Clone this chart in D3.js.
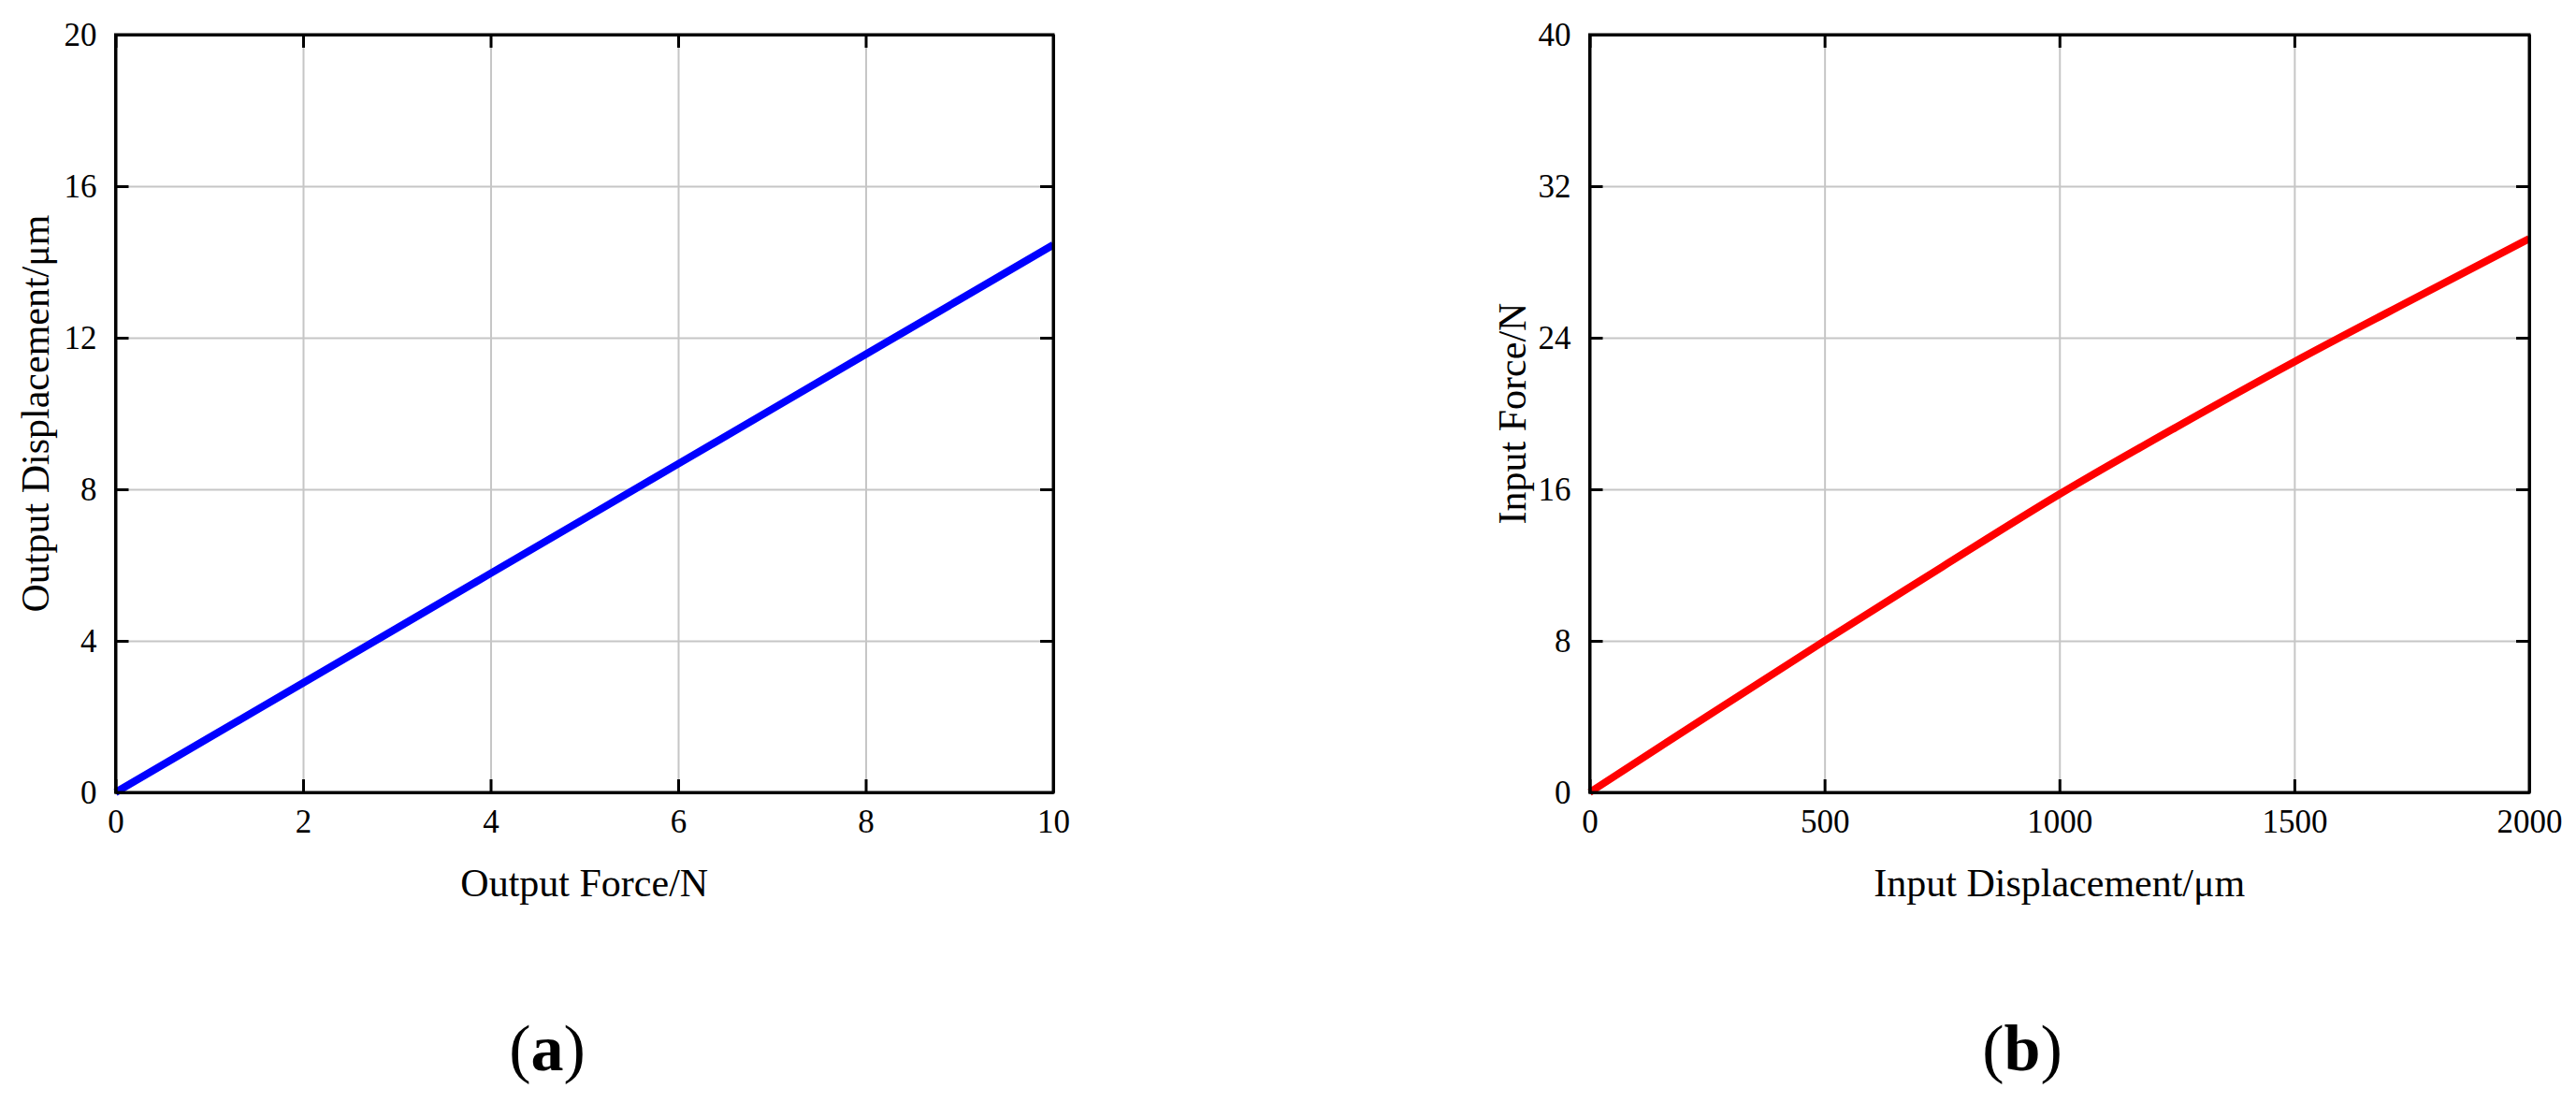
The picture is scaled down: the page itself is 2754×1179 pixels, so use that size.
<!DOCTYPE html>
<html>
<head>
<meta charset="utf-8">
<script src="https://cdn.jsdelivr.net/npm/d3@7"></script>
<style>
  html, body { margin: 0; padding: 0; background: #fff; }
  svg { display: block; }
  text { font-family: "Liberation Serif", "Times New Roman", serif; fill: #000; }
</style>
</head>
<body>
<svg id="chart" width="2754" height="1179"></svg>
<script>
// ---- Data ----
const aForce = [0, 2, 4, 6, 8, 10];                 // Output Force / N
const aDisp  = [0, 2.89, 5.78, 8.67, 11.56, 14.45]; // Output Displacement / µm
const bDisp  = [0, 250, 500, 750, 1000, 1250, 1500, 1750, 2000]; // Input Displacement / µm
const bForce = [0, 4.02, 8.0, 11.9, 15.74, 19.3, 22.73, 26.0, 29.23]; // Input Force / N

const aXTicks = [0, 2, 4, 6, 8, 10];
const aYTicks = [0, 4, 8, 12, 16, 20];
const bXTicks = [0, 500, 1000, 1500, 2000];
const bYTicks = [0, 8, 16, 24, 32, 40];

const svg = d3.select("#chart");
const fmt = d3.format("d");

function panel(o) {
  const g = svg.append("g");
  const x = d3.scaleLinear().domain(o.xDomain).range([o.x0, o.x1]);
  const y = d3.scaleLinear().domain(o.yDomain).range([o.y1, o.y0]);

  // grid
  const gridX = g.append("g").attr("transform", `translate(0,${o.y1})`)
    .call(d3.axisBottom(x).tickValues(o.xTicks).tickSize(-(o.y1 - o.y0)).tickFormat(""));
  const gridY = g.append("g").attr("transform", `translate(${o.x0},0)`)
    .call(d3.axisLeft(y).tickValues(o.yTicks).tickSize(-(o.x1 - o.x0)).tickFormat(""));
  [gridX, gridY].forEach(s => {
    s.select(".domain").remove();
    s.selectAll("line").attr("stroke", "#c6c6c6").attr("stroke-width", 2);
  });

  // data line
  const pts = o.xs.map((v, i) => [v, o.ys[i]]);
  g.append("path").datum(pts)
    .attr("fill", "none")
    .attr("stroke", o.color)
    .attr("stroke-width", 8)
    .attr("d", d3.line().curve(d3.curveMonotoneX).x(d => x(d[0])).y(d => y(d[1])));

  // axes with inward ticks
  const bottom = g.append("g").attr("transform", `translate(0,${o.y1})`)
    .call(d3.axisBottom(x).tickValues(o.xTicks).tickFormat(fmt).tickSizeInner(-14).tickSizeOuter(0).tickPadding(0));
  const top = g.append("g").attr("transform", `translate(0,${o.y0})`)
    .call(d3.axisTop(x).tickValues(o.xTicks).tickSizeInner(-14).tickSizeOuter(0).tickFormat(""));
  const left = g.append("g").attr("transform", `translate(${o.x0},0)`)
    .call(d3.axisLeft(y).tickValues(o.yTicks).tickFormat(fmt).tickSizeInner(-14).tickSizeOuter(0).tickPadding(20));
  const right = g.append("g").attr("transform", `translate(${o.x1},0)`)
    .call(d3.axisRight(y).tickValues(o.yTicks).tickSizeInner(-14).tickSizeOuter(0).tickFormat(""));

  [bottom, top, left, right].forEach(s => {
    s.select(".domain").attr("stroke", "#000").attr("stroke-width", 3);
    s.selectAll(".tick line").attr("stroke", "#000").attr("stroke-width", 3);
    s.selectAll(".tick text")
      .style("font-family", '"Liberation Serif", "Times New Roman", serif')
      .attr("font-size", 35).attr("fill", "#000");
  });
  bottom.selectAll(".tick text").attr("y", 43).attr("dy", null);
  left.selectAll(".tick text").attr("dy", "0.34em");

  // frame
  g.append("rect")
    .attr("x", o.x0).attr("y", o.y0)
    .attr("width", o.x1 - o.x0).attr("height", o.y1 - o.y0)
    .attr("fill", "none").attr("stroke", "#000").attr("stroke-width", 3);

  // axis titles
  g.append("text")
    .attr("x", (o.x0 + o.x1) / 2).attr("y", 958)
    .attr("text-anchor", "middle").attr("font-size", 42)
    .text(o.xLabel);
  g.append("text")
    .attr("transform", `translate(${o.yLabelX},${(o.y0 + o.y1) / 2}) rotate(-90)`)
    .attr("text-anchor", "middle").attr("font-size", 42)
    .text(o.yLabel);

  // sub-caption
  const cap = g.append("text")
    .attr("x", o.capX).attr("y", 1144)
    .attr("text-anchor", "middle").attr("font-size", 70);
  cap.append("tspan").text("(");
  cap.append("tspan").attr("font-weight", "bold").text(o.cap);
  cap.append("tspan").text(")");
}

panel({
  x0: 123.5, x1: 1126, y0: 37, y1: 847,
  xDomain: [0, 10], yDomain: [0, 20],
  xTicks: aXTicks, yTicks: aYTicks,
  xs: aForce, ys: aDisp, color: "#0000ff",
  xLabel: "Output Force/N", yLabel: "Output Displacement/\u03bcm",
  yLabelX: 52, capX: 585, cap: "a"
});

panel({
  x0: 1699.5, x1: 2704, y0: 37, y1: 847,
  xDomain: [0, 2000], yDomain: [0, 40],
  xTicks: bXTicks, yTicks: bYTicks,
  xs: bDisp, ys: bForce, color: "#ff0000",
  xLabel: "Input Displacement/\u03bcm", yLabel: "Input Force/N",
  yLabelX: 1631, capX: 2162, cap: "b"
});
</script>
</body>
</html>
